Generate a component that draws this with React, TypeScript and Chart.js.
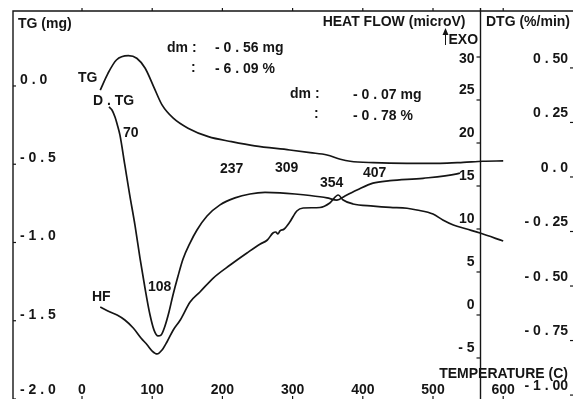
import React, { useEffect, useRef } from "react";
import { Chart, registerables } from "chart.js";

Chart.register(...registerables);

const W = 573;
const H = 399;
const INK = "#151515";
const FONT = "bold 14px 'Liberation Sans', Arial, sans-serif";

// Temperature axis (C)
const tempTicks = [0, 100, 200, 300, 400, 500, 600];
const tempTickLabels = ["0", "100", "200", "300", "400", "500", "600"];

// TG axis (mg)
const tgTicks = [0, -0.5, -1.0, -1.5, -2.0];
const tgTickLabels = ["0 . 0", "- 0 . 5", "- 1 . 0", "- 1 . 5", "- 2 . 0"];

// Heat flow axis (microV)
const hfTicks = [30, 25, 20, 15, 10, 5, 0, -5];
const hfTickLabels = ["30", "25", "20", "15", "10", "5", "0", "- 5"];

// DTG axis (%/min)
const dtgTicks = [0.5, 0.25, 0, -0.25, -0.5, -0.75, -1.0];
const dtgTickLabels = ["0 . 50", "0 . 25", "0 . 0", "- 0 . 25", "- 0 . 50", "- 0 . 75", "- 1 . 00"];

// TG curve: mass change (mg) vs temperature
const tgTemp = [26, 37, 49, 66, 78, 90, 102, 114, 130, 151, 180, 213, 246, 296, 325, 349, 368, 382, 415, 463, 510, 543, 571, 600];
const tgMass = [-0.026, 0.081, 0.166, 0.194, 0.177, 0.113, -0.004, -0.121, -0.206, -0.27, -0.324, -0.356, -0.383, -0.409, -0.426, -0.441, -0.468, -0.481, -0.49, -0.494, -0.494, -0.488, -0.481, -0.479];

// HF curve: heat flow (microV) vs temperature
const hfTemp = [26, 40, 50, 61, 73, 84, 93, 100, 107, 114, 121, 130, 140, 154, 168, 187, 211, 235, 254, 264, 272, 276, 279, 282, 288, 296, 306, 315, 339, 353, 365, 372, 386, 415, 439, 463, 477, 500, 514, 529, 548, 567, 600];
const hfSignal = [0.93, 0.35, 0, -0.58, -1.51, -2.67, -3.49, -4.19, -4.53, -4.07, -3.14, -1.74, -0.58, 1.51, 2.67, 4.3, 5.81, 7.21, 8.26, 8.72, 9.53, 9.65, 9.42, 9.77, 10.0, 10.81, 12.09, 12.44, 12.5, 13.02, 13.95, 13.37, 12.91, 12.67, 12.52, 12.41, 12.21, 11.74, 11.05, 10.47, 10.0, 9.53, 8.6];

// DTG curve: rate of mass change (%/min) vs temperature
const dtgTemp = [38.5, 42.7, 47, 50, 54, 61, 68, 75.5, 82.6, 89.7, 96.9, 102.6, 108.3, 112.5, 118.2, 123.9, 129.6, 136.8, 143.9, 153.8, 163.8, 178.1, 196.6, 217.9, 239.3, 260.7, 282.1, 303.4, 324.8, 349, 363.2, 374.6, 391.7, 414.5, 438.7, 485.8, 534.2, 538.5];
const dtgRate = [0.321, 0.307, 0.275, 0.243, 0.193, 0.055, -0.083, -0.222, -0.372, -0.509, -0.633, -0.702, -0.729, -0.725, -0.683, -0.619, -0.541, -0.454, -0.376, -0.303, -0.243, -0.179, -0.128, -0.096, -0.078, -0.071, -0.073, -0.078, -0.085, -0.096, -0.106, -0.087, -0.06, -0.028, -0.017, -0.006, 0.014, 0.018];

// Temperature at which the heat-flow axis line stands
const hfAxisTemp = 567;

const zip = (xs: number[], ys: number[]) => xs.map((x, i) => ({ x, y: ys[i] }));

const decorPlugin = {
  id: "decor",
  afterDraw(chart: any) {
    const { ctx, chartArea: a, scales } = chart;
    const sx = scales.x;
    const sTG = scales.yTG;
    const sHF = scales.yHF;
    const sDTG = scales.yDTG;
    ctx.save();
    ctx.strokeStyle = INK;
    ctx.fillStyle = INK;
    ctx.lineWidth = 1.4;

    // frame: left and top borders
    ctx.beginPath();
    ctx.moveTo(a.left, a.bottom);
    ctx.lineTo(a.left, a.top);
    ctx.lineTo(W, a.top);
    ctx.stroke();

    // heat-flow axis line
    const hx = Math.round(sx.getPixelForValue(hfAxisTemp)) + 0.5;
    ctx.beginPath();
    ctx.moveTo(hx, a.top - 3);
    ctx.lineTo(hx, a.bottom);
    ctx.stroke();

    ctx.lineWidth = 1.2;
    // temperature ticks on top and bottom edges
    tempTicks.forEach((t) => {
      const px = sx.getPixelForValue(t);
      ctx.beginPath();
      ctx.moveTo(px, a.top);
      ctx.lineTo(px, a.top - 3);
      ctx.moveTo(px, a.bottom);
      ctx.lineTo(px, a.bottom - 3);
      ctx.stroke();
    });
    // TG ticks on left edge
    tgTicks.forEach((v) => {
      const py = sTG.getPixelForValue(v);
      ctx.beginPath();
      ctx.moveTo(a.left, py);
      ctx.lineTo(a.left + 3, py);
      ctx.stroke();
    });
    // HF ticks
    hfTicks.forEach((v) => {
      const py = sHF.getPixelForValue(v);
      ctx.beginPath();
      ctx.moveTo(hx - 4, py);
      ctx.lineTo(hx, py);
      ctx.stroke();
    });
    // DTG ticks on the right edge
    dtgTicks.forEach((v) => {
      const py = sDTG.getPixelForValue(v);
      ctx.beginPath();
      ctx.moveTo(W - 3, py);
      ctx.lineTo(W, py);
      ctx.stroke();
    });

    ctx.font = FONT;
    ctx.textBaseline = "middle";

    // tick labels
    ctx.textAlign = "left";
    tgTicks.forEach((v, i) => {
      const py = Math.min(sTG.getPixelForValue(v) - 6, a.bottom - 9);
      ctx.fillText(tgTickLabels[i], a.left + 7, py);
    });
    ctx.textAlign = "center";
    tempTicks.forEach((t, i) => {
      ctx.fillText(tempTickLabels[i], sx.getPixelForValue(t), a.bottom - 9);
    });
    ctx.textAlign = "right";
    hfTicks.forEach((v, i) => {
      const py = sHF.getPixelForValue(v);
      ctx.fillText(hfTickLabels[i], hx - 6, i === 0 ? py + 2 : py - 10);
    });
    dtgTicks.forEach((v, i) => {
      const py = sDTG.getPixelForValue(v);
      ctx.fillText(dtgTickLabels[i], W - 5, py - 9);
    });

    // axis titles
    ctx.textAlign = "left";
    ctx.fillText("TG (mg)", a.left + 5, 24);
    ctx.textAlign = "right";
    ctx.fillText("HEAT FLOW (microV)", hx - 15, 22);
    ctx.fillText("DTG (%/min)", W - 3, 22);
    ctx.fillText("TEMPERATURE (C)", W - 5, 374);
    ctx.textAlign = "left";
    ctx.fillText("EXO", hx - 32, 40);

    // exotherm arrow
    ctx.lineWidth = 1;
    ctx.beginPath();
    ctx.moveTo(hx - 35, 45);
    ctx.lineTo(hx - 35, 30);
    ctx.stroke();
    ctx.beginPath();
    ctx.moveTo(hx - 38, 35);
    ctx.lineTo(hx - 35, 28);
    ctx.lineTo(hx - 32, 35);
    ctx.closePath();
    ctx.fill();

    // mass-loss annotations
    ctx.fillText("dm :", 167, 48);
    ctx.fillText("- 0 . 56 mg", 215, 48);
    ctx.fillText(":", 191, 68);
    ctx.fillText("- 6 . 09 %", 215, 69);
    ctx.fillText("dm :", 290, 94);
    ctx.fillText("- 0 . 07 mg", 353, 95);
    ctx.fillText(":", 314, 114);
    ctx.fillText("- 0 . 78 %", 353, 116);

    // curve names and peak temperatures
    ctx.fillText("TG", 78, 78);
    ctx.fillText("D . TG", 93, 101);
    ctx.fillText("HF", 92, 297);
    ctx.fillText("70", 123, 133);
    ctx.fillText("108", 148, 287);
    ctx.fillText("237", 220, 169);
    ctx.fillText("309", 275, 168);
    ctx.fillText("354", 320, 183);
    ctx.fillText("407", 363, 173);

    ctx.restore();
  },
};

export default function App() {
  const ref = useRef<HTMLCanvasElement | null>(null);

  useEffect(() => {
    if (!ref.current) return;
    const line = { borderColor: INK, borderWidth: 1.7, pointRadius: 0, fill: false, cubicInterpolationMode: "monotone" as const };
    const chart = new Chart(ref.current, {
      type: "line",
      data: {
        datasets: [
          { label: "TG", data: zip(tgTemp, tgMass), yAxisID: "yTG", ...line },
          { label: "HF", data: zip(hfTemp, hfSignal), yAxisID: "yHF", ...line },
          { label: "D.TG", data: zip(dtgTemp, dtgRate), yAxisID: "yDTG", ...line },
        ],
      },
      options: {
        animation: false,
        responsive: false,
        events: [],
        layout: { padding: { left: 13, top: 11, right: 1, bottom: 0 } },
        plugins: { legend: { display: false }, tooltip: { enabled: false } },
        scales: {
          x: { type: "linear", display: false, min: -98.3, max: 698 },
          yTG: { type: "linear", display: false, min: -2.0, max: 0.479 },
          yHF: { type: "linear", display: false, min: -9.77, max: 35.35 },
          yDTG: { type: "linear", display: false, min: -1.018, max: 0.761 },
        },
      },
      plugins: [decorPlugin],
    });
    return () => chart.destroy();
  }, []);

  return (
    <div style={{ position: "fixed", left: 0, top: 0, width: W, height: H, background: "#fff" }}>
      <canvas ref={ref} width={W} height={H} style={{ display: "block" }} />
    </div>
  );
}
